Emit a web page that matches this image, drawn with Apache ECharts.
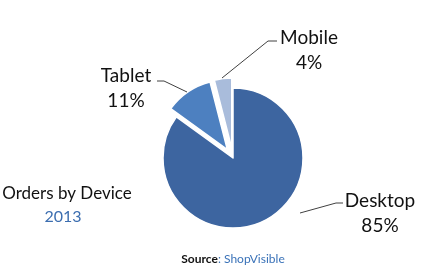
<!DOCTYPE html>
<html><head><meta charset="utf-8">
<script src="https://cdn.jsdelivr.net/npm/echarts@6/dist/echarts.min.js"></script>
<style>html,body{margin:0;padding:0;background:#fff}#c{width:437px;height:276px}</style>
</head><body><div id="c"></div>
<script>
const categories = ['Desktop', 'Tablet', 'Mobile'];
const values = [85, 11, 4];
const exploded = [false, true, true];
const colors = ['#3d65a0', '#4d80c0', '#a9bcdb'];

const labelPos = [
  {x: 380, y: 213, line: [[300, 213], [336, 203], [343, 203]]},
  {x: 126, y: 88, line: [[187, 92], [164, 81], [157, 81]]},
  {x: 309, y: 50, line: [[222, 78], [268, 41], [277, 41]]}
];

const common = {
  type: 'pie',
  center: [233, 158],
  radius: [0, 70],
  startAngle: 90,
  clockwise: true,
  avoidLabelOverlap: false,
  emphasis: {disabled: true}
};

const chart = echarts.init(document.getElementById('c'), null, {renderer: 'canvas'});
chart.setOption({
  animation: false,
  title: [
    {text: 'Orders by Device', left: 62, top: 180, textAlign: 'center',
     textStyle: {fontFamily: 'Lato', fontSize: 17, fontWeight: 'normal', color: '#111'}},
    {text: '2013', left: 58, top: 204, textAlign: 'center',
     textStyle: {fontFamily: 'Lato', fontSize: 16, fontWeight: 'normal', color: '#3c6eb0'}},
    {text: '{a|Source}{b|: ShopVisible}', left: 228, top: 248, textAlign: 'center',
     textStyle: {rich: {
       a: {fontFamily: 'Lato', fontSize: 12, fontWeight: 'bold', color: '#111'},
       b: {fontFamily: 'Lato', fontSize: 12, fontWeight: 'normal', color: '#3a72b8'}
     }}}
  ],
  series: [
    Object.assign({}, common, {
      name: 'slices',
      selectedMode: 'multiple',
      selectedOffset: 10,
      itemStyle: {borderColor: '#fff', borderWidth: 1.5},
      label: {show: false},
      labelLine: {show: false},
      data: categories.map((c, i) => ({name: c, value: values[i], selected: exploded[i], itemStyle: {color: colors[i]}}))
    }),
    Object.assign({}, common, {
      name: 'labels',
      silent: true,
      z: 3,
      itemStyle: {color: 'rgba(0,0,0,0)', borderWidth: 0},
      label: {
        show: true,
        position: 'outside',
        formatter: '{b}\n{c}%',
        fontFamily: 'Lato',
        fontSize: 19,
        lineHeight: 25,
        color: '#111',
        align: 'center'
      },
      labelLine: {show: true, lineStyle: {color: '#404040', width: 1}},
      labelLayout: function (p) {
        const lp = labelPos[p.dataIndex];
        return {x: lp.x, y: lp.y, align: 'center', verticalAlign: 'middle', labelLinePoints: lp.line};
      },
      data: categories.map((c, i) => ({name: c, value: values[i]}))
    })
  ]
});
</script></body></html>
